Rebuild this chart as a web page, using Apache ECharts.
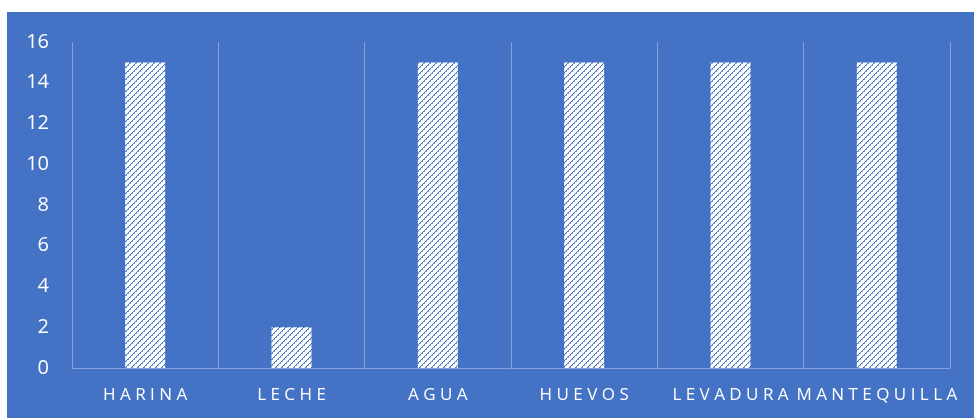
<!DOCTYPE html>
<html>
<head>
<meta charset="utf-8">
<script src="https://cdn.jsdelivr.net/npm/echarts@6/dist/echarts.min.js"></script>
<style>
html,body{margin:0;padding:0;background:#ffffff;}
#bg{position:absolute;left:7px;top:12px;width:967px;height:406px;background:#4472C4;}
#c{position:absolute;left:0;top:0;width:974px;height:418px;}
</style>
</head>
<body>
<div id="bg"></div>
<div id="c"></div>
<script>
const categories = ['HARINA', 'LECHE', 'AGUA', 'HUEVOS', 'LEVADURA', 'MANTEQUILLA'];
const values = [15, 2, 15, 15, 15, 15];
const yTicks = [0, 2, 4, 6, 8, 10, 12, 14, 16];

function makePattern() {
  const n = 6;
  const cv = document.createElement('canvas');
  cv.width = n; cv.height = n;
  const ctx = cv.getContext('2d');
  ctx.fillStyle = '#ffffff';
  ctx.fillRect(0, 0, n, n);
  for (let x = 0; x < n; x++) {
    for (let y = 0; y < n; y++) {
      const d = (x + y) % n;
      if (d === 0) { ctx.fillStyle = '#4472C4'; ctx.fillRect(x, y, 1, 1); }
      else if (d === 1 && (x % 2 === 0)) { ctx.fillStyle = '#8FAADC'; ctx.fillRect(x, y, 1, 1); }
    }
  }
  return cv;
}

const chart = echarts.init(document.getElementById('c'), null, {renderer: 'canvas'});
const lineColor = 'rgba(255,255,255,0.35)';
chart.setOption({
  backgroundColor: 'transparent',
  animation: false,
  grid: {left: 72, right: 24, top: 42, bottom: 50, containLabel: false},
  xAxis: {
    type: 'category',
    data: categories,
    boundaryGap: true,
    axisLine: {show: true, lineStyle: {color: lineColor, width: 1}},
    axisTick: {show: false},
    splitLine: {show: true, lineStyle: {color: lineColor, width: 1}},
    axisLabel: {
      interval: 0,
      color: '#ffffff',
      fontFamily: 'Open Sans',
      fontSize: 17,
      margin: 19,
      formatter: v => v.split('').join(' ')
    }
  },
  yAxis: {
    type: 'value',
    min: yTicks[0],
    max: yTicks[yTicks.length - 1],
    interval: 2,
    axisLine: {show: false},
    axisTick: {show: false},
    splitLine: {show: false},
    axisLabel: {color: '#ffffff', fontFamily: 'Open Sans', fontSize: 20, margin: 23}
  },
  series: [{
    type: 'bar',
    data: values,
    barWidth: 40,
    itemStyle: {
      color: {image: makePattern(), repeat: 'repeat'}
    }
  }]
});
</script>
</body>
</html>
